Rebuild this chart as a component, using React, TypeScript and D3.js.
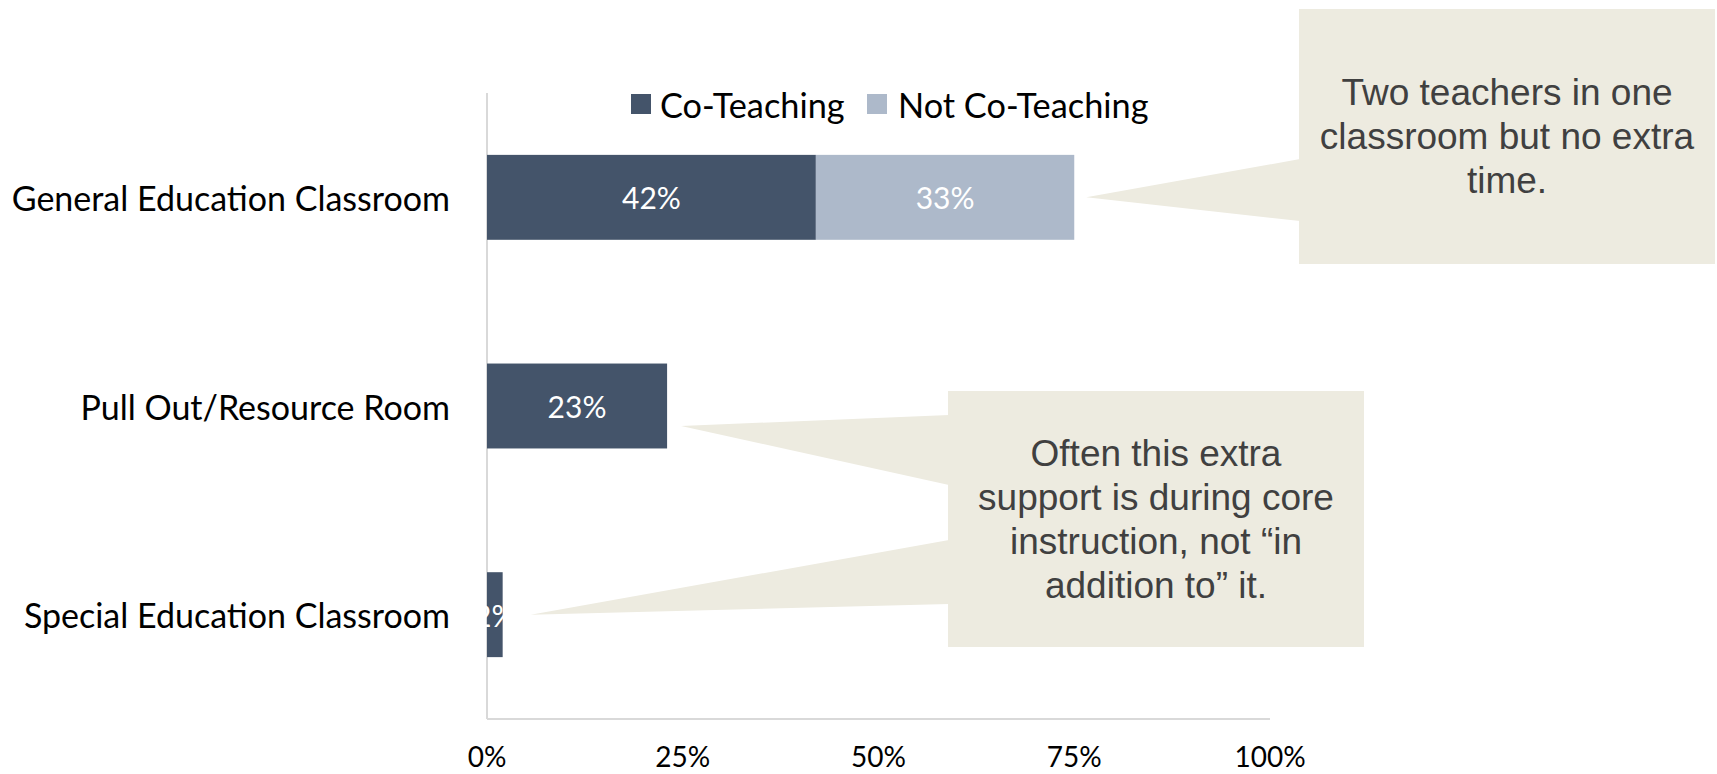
import React from "react";
import * as d3 from "d3";

const categories = ["General Education Classroom", "Pull Out/Resource Room", "Special Education Classroom"];
const coTeaching = [0.42, 0.23, 0.02];
const notCoTeaching = [0.33, 0, 0];
const seriesNames = ["Co-Teaching", "Not Co-Teaching"];
const tickValues = [0, 0.25, 0.5, 0.75, 1];
const callout1Lines = ["Two teachers in one", "classroom but no extra", "time."];
const callout2Lines = ["Often this extra", "support is during core", "instruction, not \u201cin", "addition to\u201d it."];

const W = 1717;
const H = 774;
const DARK = "#44546A";
const LIGHT = "#ADB9CA";
const NOTE = "#EDEBE0";
const AXIS = "#D9D9D9";
const CAL = "Lato, 'Open Sans', sans-serif";
const ARIAL = "'Liberation Sans', Arial, sans-serif";

export default function App() {
  const x = d3.scaleLinear().domain([0, 1]).range([487, 1270]);
  const y = d3.scaleBand<string>().domain(categories).range([93, 719]).paddingInner(0.593).paddingOuter(0.2965);
  const bw = y.bandwidth();
  const fmt = d3.format(".0%");
  const cy = (c: string) => (y(c) as number) + bw / 2;

  const stack = categories.map((c, i) => ({ c, a: coTeaching[i], b: notCoTeaching[i] }));

  const c1 = { x0: 1299, x1: 1715, y0: 9, y1: 264 };
  const tip1x = x(coTeaching[0] + notCoTeaching[0]) + 12;
  const tip1y = cy(categories[0]);
  const c2 = { x0: 948, x1: 1364, y0: 391, y1: 647 };
  const tip2x = x(coTeaching[1]) + 14;
  const tip2y = cy(categories[1]) + 20;
  const tip3x = x(coTeaching[2]) + 28;
  const tip3y = cy(categories[2]);

  const lineH = 44;

  return (
    <svg width={W} height={H} style={{ position: "absolute", left: 0, top: 0, background: "#fff" }}>
      <line x1={x(0)} x2={x(0)} y1={93} y2={719} stroke={AXIS} strokeWidth={2} />
      <line x1={x(0)} x2={x(1)} y1={719} y2={719} stroke={AXIS} strokeWidth={2} />
      {tickValues.map((t) => (
        <text key={t} x={x(t)} y={767} textAnchor="middle" fontSize={28} fill="#000" fontFamily={CAL}>
          {fmt(t)}
        </text>
      ))}
      {categories.map((c) => (
        <text key={c} x={450} y={cy(c)} textAnchor="end" dominantBaseline="central" fontSize={34} fill="#000" fontFamily={CAL}>
          {c}
        </text>
      ))}
      {stack.map((d) => (
        <g key={d.c}>
          {d.a > 0 && <rect x={x(0)} y={y(d.c)} width={x(d.a) - x(0)} height={bw} fill={DARK} />}
          {d.b > 0 && <rect x={x(d.a)} y={y(d.c)} width={x(d.a + d.b) - x(d.a)} height={bw} fill={LIGHT} />}
          {d.a > 0 && (
            <text x={(x(0) + x(d.a)) / 2} y={cy(d.c)} textAnchor="middle" dominantBaseline="central" fontSize={30} fill="#fff" fontFamily={CAL}>
              {fmt(d.a)}
            </text>
          )}
          {d.b > 0 && (
            <text x={(x(d.a) + x(d.a + d.b)) / 2} y={cy(d.c)} textAnchor="middle" dominantBaseline="central" fontSize={30} fill="#fff" fontFamily={CAL}>
              {fmt(d.b)}
            </text>
          )}
        </g>
      ))}
      <rect x={631} y={94} width={20} height={20} fill={DARK} />
      <text x={660} y={104} dominantBaseline="central" fontSize={34.3} fill="#000" fontFamily={CAL}>{seriesNames[0]}</text>
      <rect x={867} y={94} width={20} height={20} fill={LIGHT} />
      <text x={898} y={104} dominantBaseline="central" fontSize={34.3} fill="#000" fontFamily={CAL}>{seriesNames[1]}</text>

      <rect x={c1.x0} y={c1.y0} width={c1.x1 - c1.x0} height={c1.y1 - c1.y0} fill={NOTE} />
      <polygon points={`${tip1x},${tip1y} ${c1.x0 + 1},159 ${c1.x0 + 1},221`} fill={NOTE} />
      {callout1Lines.map((l, i) => (
        <text key={l} x={(c1.x0 + c1.x1) / 2} y={(c1.y0 + c1.y1) / 2 + (i - (callout1Lines.length - 1) / 2) * lineH} textAnchor="middle" dominantBaseline="central" fontSize={37} fill="#404040" fontFamily={ARIAL}>
          {l}
        </text>
      ))}

      <rect x={c2.x0} y={c2.y0} width={c2.x1 - c2.x0} height={c2.y1 - c2.y0} fill={NOTE} />
      <polygon points={`${tip2x},${tip2y} ${c2.x0 + 1},415 ${c2.x0 + 1},485`} fill={NOTE} />
      <polygon points={`${tip3x},${tip3y} ${c2.x0 + 1},540 ${c2.x0 + 1},604`} fill={NOTE} />
      {callout2Lines.map((l, i) => (
        <text key={l} x={(c2.x0 + c2.x1) / 2} y={(c2.y0 + c2.y1) / 2 + (i - (callout2Lines.length - 1) / 2) * lineH} textAnchor="middle" dominantBaseline="central" fontSize={37} fill="#404040" fontFamily={ARIAL}>
          {l}
        </text>
      ))}
    </svg>
  );
}
